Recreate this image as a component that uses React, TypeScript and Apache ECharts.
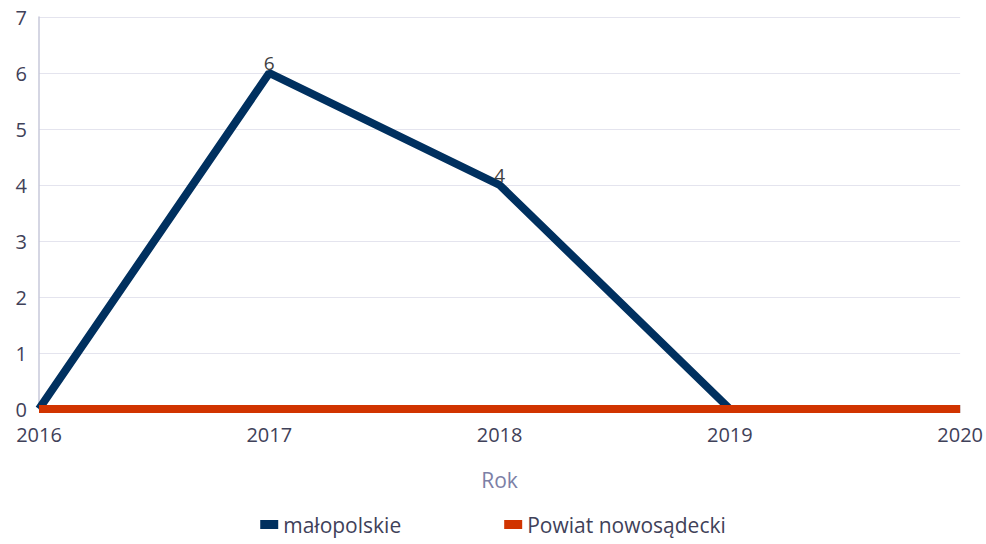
import React, { useEffect, useRef } from "react";
import * as echarts from "echarts";

const years = ["2016", "2017", "2018", "2019", "2020"];
const malopolskie = [0, 6, 4, 0, 0];
const powiat = [0, 0, 0, 0, 0];

export default function App() {
  const ref = useRef<HTMLDivElement>(null);
  useEffect(() => {
    if (!ref.current) return;
    const chart = echarts.init(ref.current, undefined, { renderer: "svg" });
    const font = "'Open Sans', 'Noto Sans', sans-serif";
    chart.setOption({
      animation: false,
      textStyle: { fontFamily: font },
      grid: { left: 39, right: 24, top: 17, bottom: 135, containLabel: false },
      legend: {
        bottom: 4,
        left: "center",
        itemWidth: 18,
        itemHeight: 9,
        itemGap: 103,
        icon: "rect",
        textStyle: { fontSize: 21, color: "#3f4159", fontFamily: font },
        data: ["małopolskie", "Powiat nowosądecki"],
      },
      xAxis: {
        type: "category",
        data: years,
        boundaryGap: false,
        name: "Rok",
        nameLocation: "middle",
        nameGap: 60,
        nameTextStyle: { fontSize: 21, color: "#7c80a6", fontFamily: font },
        axisLine: { show: false },
        axisTick: { show: false },
        axisLabel: { fontSize: 20, color: "#3f4159", margin: 15, fontFamily: font },
        splitLine: { show: false },
      },
      yAxis: {
        type: "value",
        min: 0,
        max: 7,
        interval: 1,
        axisLine: { show: true, lineStyle: { color: "#c7c8da", width: 1.5 } },
        axisTick: { show: false },
        axisLabel: { fontSize: 20, color: "#3f4159", margin: 12, fontFamily: font },
        splitLine: { show: true, lineStyle: { color: "#e4e4ee", width: 1 } },
      },
      series: [
        {
          name: "małopolskie",
          type: "line",
          data: malopolskie,
          symbol: "circle",
          symbolSize: 0,
          showSymbol: true,
          lineStyle: { color: "#00305f", width: 8 },
          itemStyle: { color: "#00305f" },
          label: {
            show: true,
            position: "top",
            distance: 1,
            fontSize: 19,
            color: "#404040",
            fontFamily: font,
            formatter: (p: any) => (p.value === 0 ? "" : String(p.value)),
          },
        },
        {
          name: "Powiat nowosądecki",
          type: "line",
          data: powiat,
          symbol: "none",
          lineStyle: { color: "#d13400", width: 8 },
          itemStyle: { color: "#d13400" },
        },
      ],
    });
    return () => chart.dispose();
  }, []);
  return <div ref={ref} style={{ width: 986, height: 544, position: "absolute", left: 0, top: 0 }} />;
}
